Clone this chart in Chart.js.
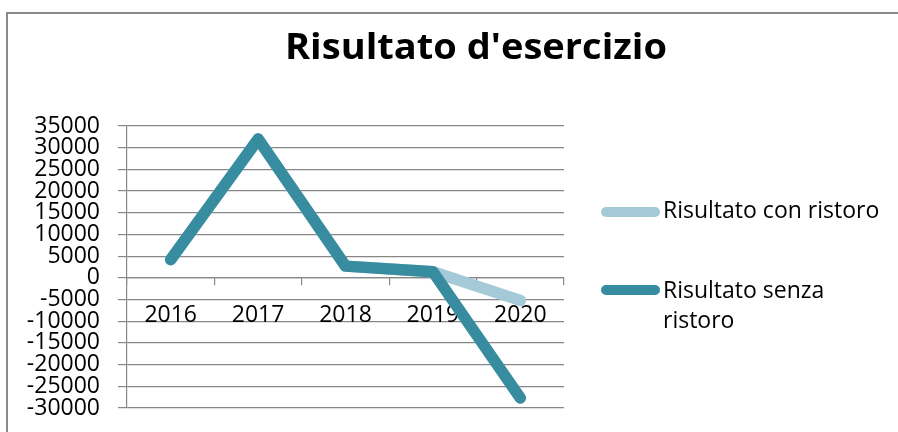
<!DOCTYPE html>
<html>
<head>
<meta charset="utf-8">
<script src="https://cdn.jsdelivr.net/npm/chart.js@4.4.1/dist/chart.umd.min.js"></script>
<style>
  html, body { margin: 0; padding: 0; background: #fff; }
  #wrap { width: 898px; height: 432px; }
</style>
</head>
<body>
<div id="wrap"><canvas id="chart" width="898" height="432"></canvas></div>
<script>
// dati
const years = ["2016", "2017", "2018", "2019", "2020"];
const conRistoro = [4200, 32000, 2700, 1400, -5200];
const senzaRistoro = [4200, 32000, 2700, 1400, -27700];
const seriesNames = ["Risultato con ristoro", "Risultato senza ristoro"];
const chartTitle = "Risultato d'esercizio";
const yMin = -30000, yMax = 35000, yStep = 5000;

const lightBlue = "#a5cad7";
const darkTeal = "#388ca0";
const gridGray = "#878787";

// cornice, titolo e legenda disegnati a mano
const decorations = {
    id: "decorations",
    beforeDraw(chart) {
        const ctx = chart.ctx;
        ctx.save();
        ctx.fillStyle = "#fff";
        ctx.fillRect(0, 0, chart.width, chart.height);
        ctx.strokeStyle = "#8a8a8a";
        ctx.lineWidth = 2;
        ctx.strokeRect(7, 13, 1200, 1200);
        ctx.restore();
    },
    afterDraw(chart) {
        const ctx = chart.ctx;
        ctx.save();
        // titolo (compresso per imitare Calibri)
        ctx.font = "bold 36px 'Open Sans'";
        ctx.fillStyle = "#000";
        ctx.textBaseline = "alphabetic";
        const w = ctx.measureText(chartTitle).width;
        const sx = 382 / w;
        ctx.translate(476, 59);
        ctx.scale(sx, 1);
        ctx.textAlign = "center";
        ctx.fillText(chartTitle, 0, 0);
        ctx.restore();

        // legenda
        ctx.save();
        const items = [
            { color: lightBlue, lines: ["Risultato con ristoro"], y: 212, base: 218 },
            { color: darkTeal, lines: ["Risultato senza", "ristoro"], y: 290, base: 298 }
        ];
        ctx.lineCap = "round";
        ctx.lineWidth = 10;
        ctx.font = "23px 'Open Sans'";
        ctx.fillStyle = "#000";
        ctx.textBaseline = "alphabetic";
        items.forEach(it => {
            ctx.strokeStyle = it.color;
            ctx.beginPath();
            ctx.moveTo(606, it.y);
            ctx.lineTo(655, it.y);
            ctx.stroke();
            it.lines.forEach((t, i) => ctx.fillText(t, 663, it.base + i * 30));
        });
        ctx.restore();
    }
};

function noPad(scale) {
    scale.paddingTop = 0;
    scale.paddingBottom = 0;
    scale.paddingLeft = 0;
    scale.paddingRight = 0;
}

new Chart(document.getElementById("chart"), {
    type: "line",
    data: {
        labels: years,
        datasets: [
            {
                label: seriesNames[0],
                data: conRistoro,
                borderColor: lightBlue,
                backgroundColor: lightBlue,
                order: 1
            },
            {
                label: seriesNames[1],
                data: senzaRistoro,
                borderColor: darkTeal,
                backgroundColor: darkTeal,
                order: 0
            }
        ]
    },
    options: {
        responsive: false,
        animation: false,
        devicePixelRatio: 1,
        layout: { padding: { top: 126, left: 10, right: 334, bottom: 24 } },
        elements: {
            line: { borderWidth: 11.5, borderCapStyle: "round", borderJoinStyle: "round", tension: 0 },
            point: { radius: 0, hoverRadius: 0 }
        },
        plugins: {
            legend: { display: false },
            title: { display: false },
            tooltip: { enabled: false }
        },
        scales: {
            x: {
                position: { y: 0 },
                offset: true,
                afterFit: noPad,
                grid: {
                    offset: true,
                    drawOnChartArea: false,
                    tickLength: 7,
                    color: gridGray,
                    lineWidth: 1.2
                },
                border: { color: gridGray, width: 1.2 },
                ticks: {
                    color: "#000",
                    padding: 17,
                    font: { family: "'Open Sans'", size: 23 }
                }
            },
            y: {
                min: yMin,
                max: yMax,
                afterFit(scale) { scale.width = 117; noPad(scale); },
                grid: { color: gridGray, lineWidth: 1.2, tickLength: 9 },
                border: { color: gridGray, width: 1.2 },
                ticks: {
                    stepSize: yStep,
                    autoSkip: false,
                    padding: 18,
                    color: "#000",
                    font: { family: "'Open Sans'", size: 23, lineHeight: 1 },
                    callback: v => String(v)
                }
            }
        }
    },
    plugins: [decorations]
});
</script>
</body>
</html>
